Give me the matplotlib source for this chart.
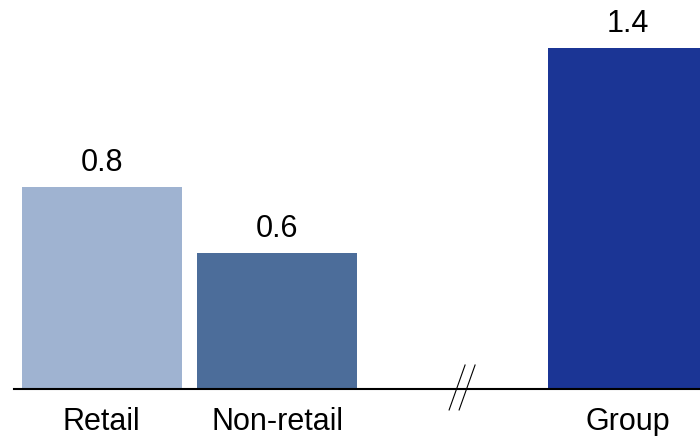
import matplotlib.pyplot as plt

categories = ['Retail', 'Non-retail', 'Group']
values = [0.83, 0.56, 1.40]
positions = [0, 1, 3]
colors = ['#9FB3D1', '#4C6D9A', '#1B3595']

plt.rcParams['font.family'] = ['Liberation Sans', 'DejaVu Sans']

fig = plt.figure(figsize=(7, 4.36), dpi=100)
ax = fig.add_axes([14 / 700, 47 / 436, 686 / 700, 389 / 436])

bars = ax.bar(positions, values, width=0.91, color=colors)
for b, v in zip(bars, values):
    ax.text(b.get_x() + b.get_width() / 2, v + 0.035, f'{v:.1f}',
            ha='center', va='bottom', fontsize=22)

ax.set_xlim(-0.5, 3.41)
ax.set_ylim(0, 1.597)
ax.set_xticks(positions)
ax.set_xticklabels(categories, fontsize=22)
ax.tick_params(axis='x', length=0, pad=13)
ax.set_yticks([])
for s in ['top', 'right', 'left']:
    ax.spines[s].set_visible(False)
ax.spines['bottom'].set_linewidth(1.5)

# break mark on the axis
for dx in [0, 0.057]:
    ax.plot([1.98 + dx, 2.071 + dx], [-0.086, 0.0985], color='black',
            lw=0.8, clip_on=False)

fig.savefig('out.png', dpi=100)
